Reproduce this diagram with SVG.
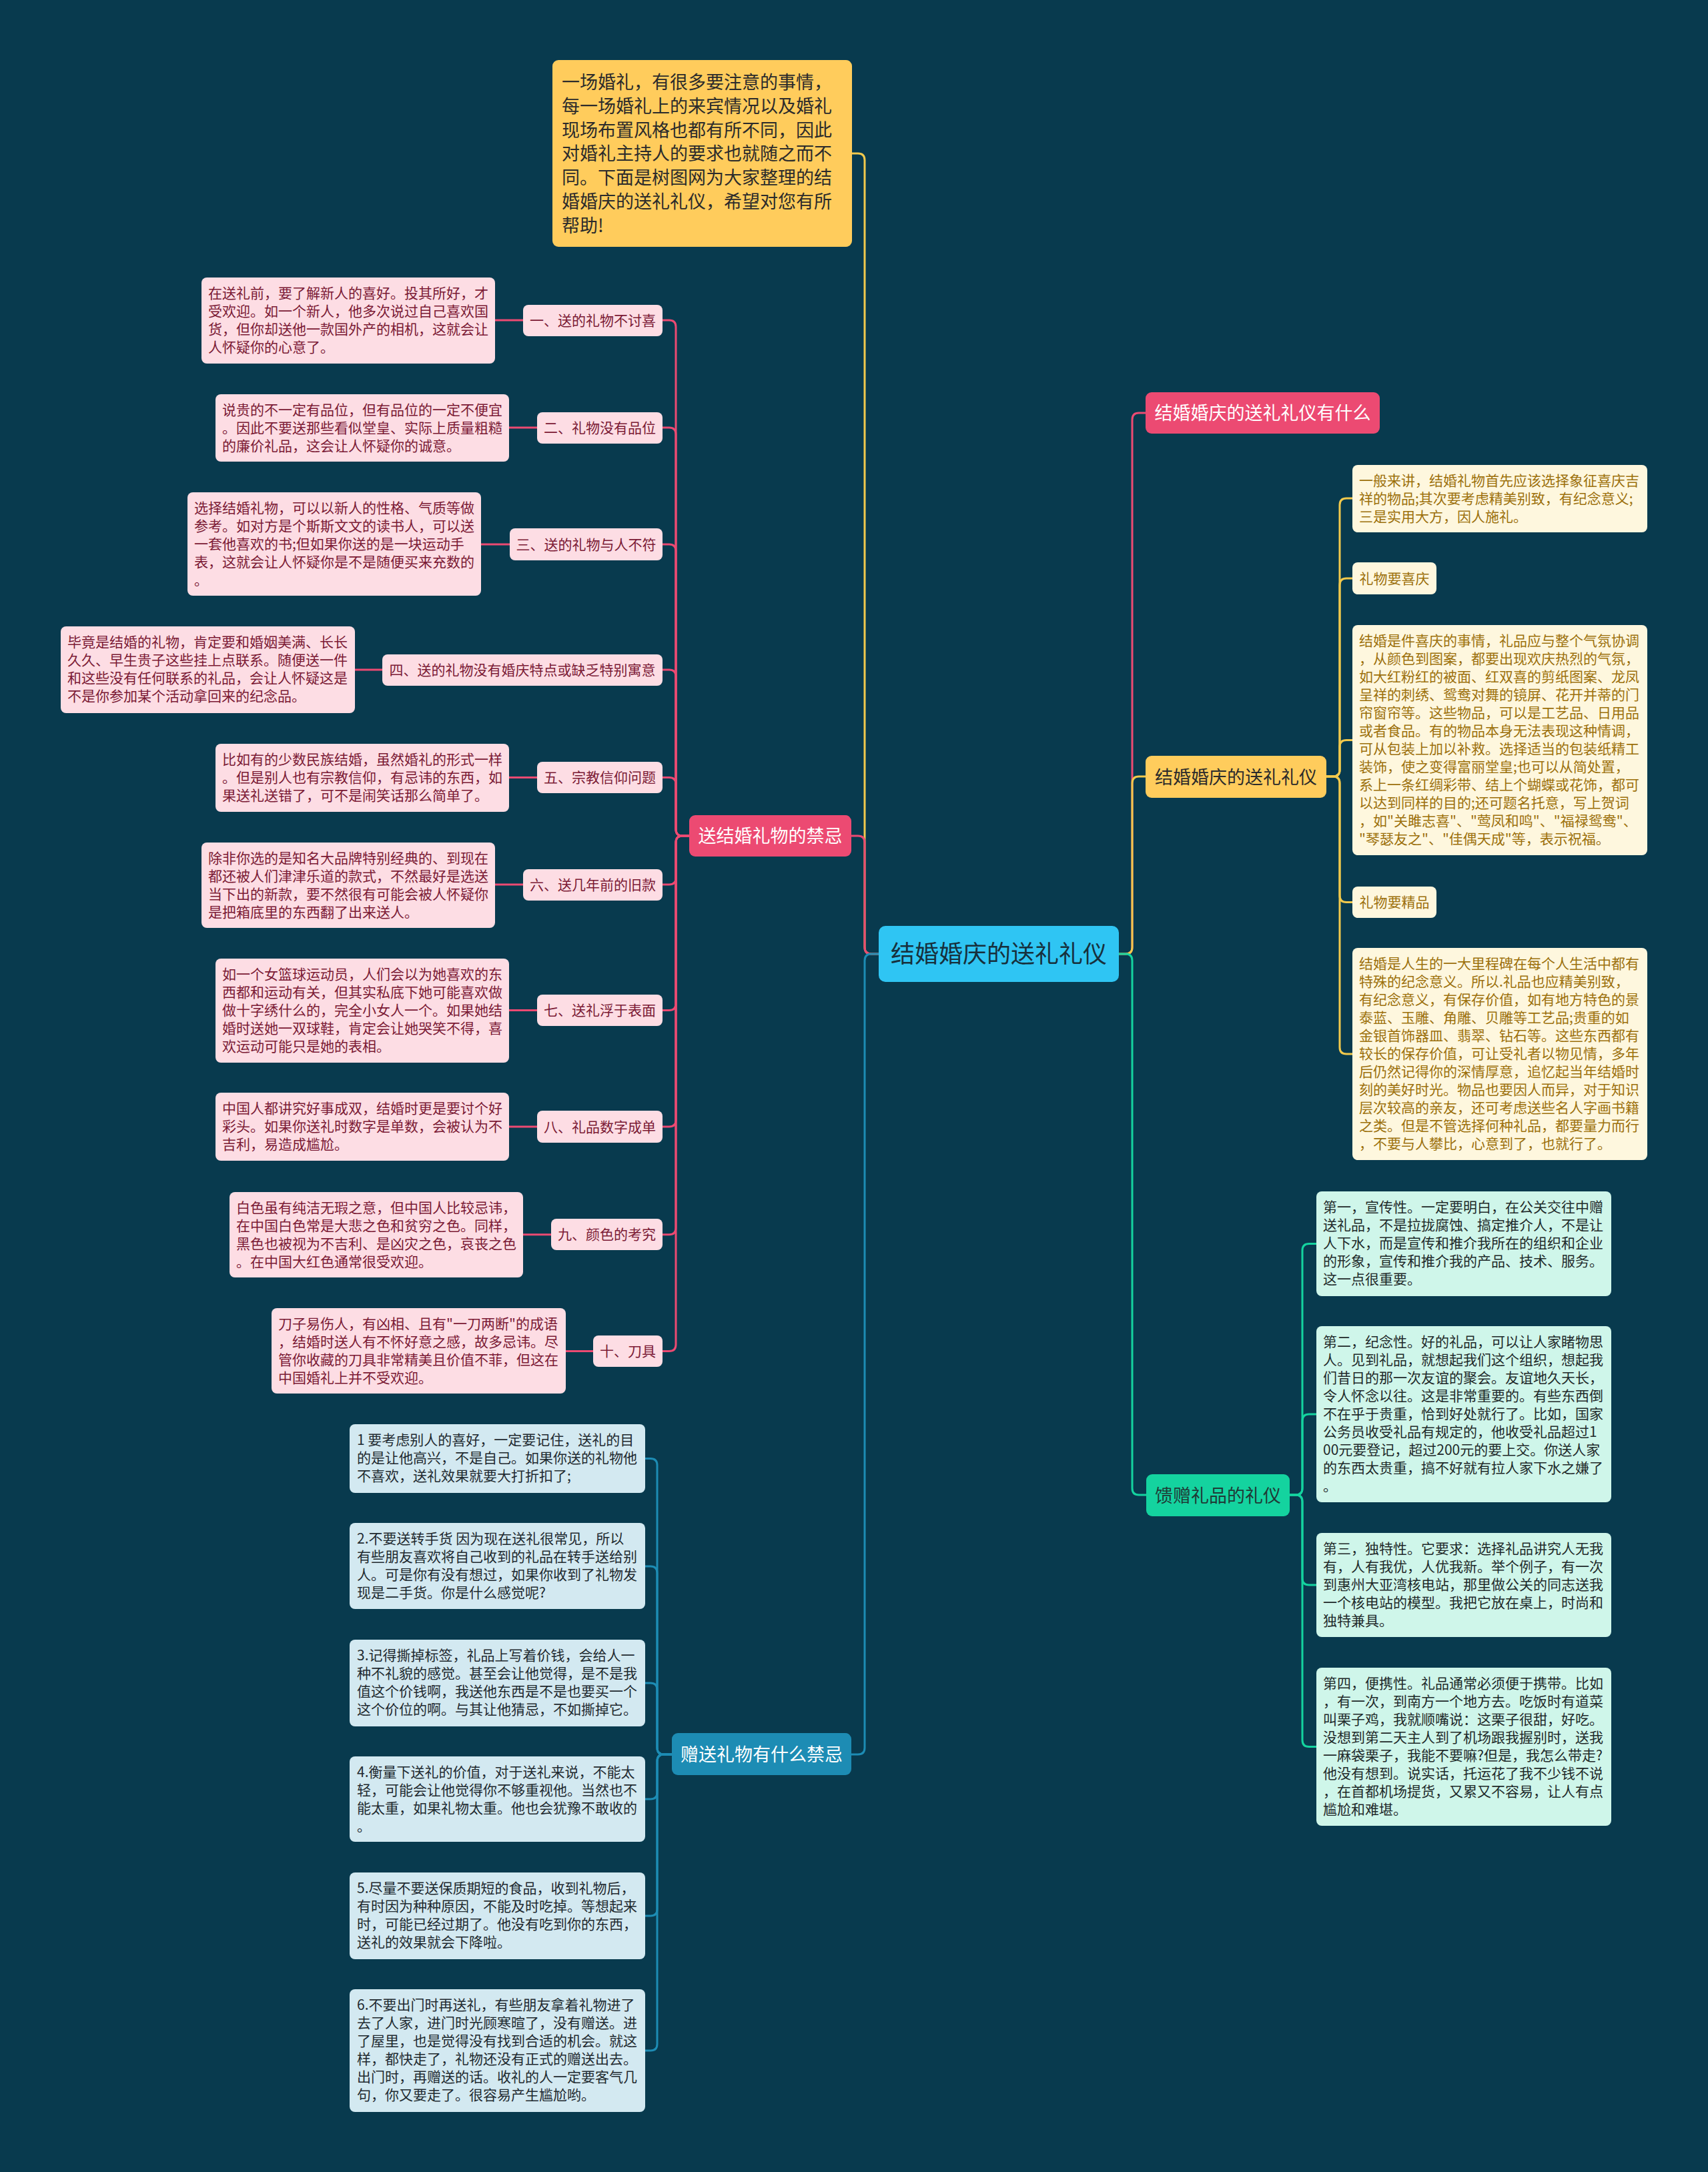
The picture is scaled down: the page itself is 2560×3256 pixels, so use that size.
<svg xmlns="http://www.w3.org/2000/svg" width="2560" height="3256" viewBox="0 0 2560 3256">
<style>
text{font-family:"Noto Sans CJK SC","Noto Sans",sans-serif;}
.c{fill:none;stroke-width:3;stroke-linecap:round;}
.cp{stroke:#EC4A72;}
.cy{stroke:#F2C94C;}
.cb{stroke:#1D8CB4;}
.cg{stroke:#14D39F;}
.pl{fill:#FDDDE4;}
.pt{fill:#7B1A35;font-size:21px;}
.bl{fill:#D3E9F1;}
.bt{fill:#1F2A30;font-size:21px;}
.yl{fill:#FEF7DE;}
.yt{fill:#9C700C;font-size:21px;}
.gl{fill:#CFF6EA;}
.gt{fill:#1F2A2A;font-size:21px;}
.m{text-anchor:middle;}
.l1{font-size:27px;}
</style>
<rect width="2560" height="3256" fill="#083A4E"/>

<g id="connectors">
<path class="c cy" d="M1317,1430H1306Q1296,1430 1296,1420V240Q1296,230 1286,230H1277"/>
<path class="c cp" d="M1317,1430H1306Q1296,1430 1296,1420V1263Q1296,1253 1286,1253H1276"/>
<path class="c cb" d="M1317,1430H1306Q1296,1430 1296,1440V2620Q1296,2630 1286,2630H1276"/>
<path class="c cp" d="M1677,1430H1687Q1697,1430 1697,1420V629Q1697,619 1707,619H1717"/>
<path class="c cy" d="M1677,1430H1687Q1697,1430 1697,1420V1174Q1697,1164 1707,1164H1717"/>
<path class="c cg" d="M1677,1430H1687Q1697,1430 1697,1440V2231Q1697,2241 1707,2241H1718"/>

<path class="c cp" d="M1033,1253H1023Q1013,1253 1013,1243V490Q1013,480 1003,480H993"/>
<path class="c cp" d="M1033,1253H1023Q1013,1253 1013,1243V651Q1013,641 1003,641H993"/>
<path class="c cp" d="M1033,1253H1023Q1013,1253 1013,1243V826Q1013,816 1003,816H993"/>
<path class="c cp" d="M1033,1253H1023Q1013,1253 1013,1243V1014Q1013,1004 1003,1004H993"/>
<path class="c cp" d="M1033,1253H1023Q1013,1253 1013,1243V1175.5Q1013,1165.5 1003,1165.5H993"/>
<path class="c cp" d="M1033,1253H1023Q1013,1253 1013,1263V1316Q1013,1326 1003,1326H993"/>
<path class="c cp" d="M1033,1253H1023Q1013,1253 1013,1263V1504.5Q1013,1514.5 1003,1514.5H993"/>
<path class="c cp" d="M1033,1253H1023Q1013,1253 1013,1263V1679Q1013,1689 1003,1689H993"/>
<path class="c cp" d="M1033,1253H1023Q1013,1253 1013,1263V1840.7Q1013,1850.7 1003,1850.7H993"/>
<path class="c cp" d="M1033,1253H1023Q1013,1253 1013,1263V2015.5Q1013,2025.5 1003,2025.5H993"/>

<path class="c cp" d="M784,480H742"/>
<path class="c cp" d="M805,641H763"/>
<path class="c cp" d="M764,816H721"/>
<path class="c cp" d="M573,1004H532"/>
<path class="c cp" d="M805,1165.5H763"/>
<path class="c cp" d="M784,1326H742"/>
<path class="c cp" d="M805,1514.5H763"/>
<path class="c cp" d="M805,1689H763"/>
<path class="c cp" d="M826,1850.7H784"/>
<path class="c cp" d="M889,2025.5H848"/>

<path class="c cy" d="M1988,1164H1998Q2008,1164 2008,1154V757Q2008,747 2018,747H2027"/>
<path class="c cy" d="M1988,1164H1998Q2008,1164 2008,1154V877Q2008,867 2018,867H2027"/>
<path class="c cy" d="M1988,1164H1998Q2008,1164 2008,1154V1119.5Q2008,1109.5 2018,1109.5H2027"/>
<path class="c cy" d="M1988,1164H1998Q2008,1164 2008,1174V1342.5Q2008,1352.5 2018,1352.5H2027"/>
<path class="c cy" d="M1988,1164H1998Q2008,1164 2008,1174V1570Q2008,1580 2018,1580H2027"/>

<path class="c cg" d="M1933,2241H1942Q1952,2241 1952,2231V1874.5Q1952,1864.5 1962,1864.5H1973"/>
<path class="c cg" d="M1933,2241H1942Q1952,2241 1952,2231V2130Q1952,2120 1962,2120H1973"/>
<path class="c cg" d="M1933,2241H1942Q1952,2241 1952,2251V2366Q1952,2376 1962,2376H1973"/>
<path class="c cg" d="M1933,2241H1942Q1952,2241 1952,2251V2608.5Q1952,2618.5 1962,2618.5H1973"/>

<path class="c cb" d="M1007,2630H995Q985,2630 985,2620V2196.5Q985,2186.5 975,2186.5H967"/>
<path class="c cb" d="M1007,2630H995Q985,2630 985,2620V2358Q985,2348 975,2348H967"/>
<path class="c cb" d="M1007,2630H995Q985,2630 985,2620V2533Q985,2523 975,2523H967"/>
<path class="c cb" d="M1007,2630H995Q985,2630 985,2640V2687Q985,2697 975,2697H967"/>
<path class="c cb" d="M1007,2630H995Q985,2630 985,2640V2862Q985,2872 975,2872H967"/>
<path class="c cb" d="M1007,2630H995Q985,2630 985,2640V3064Q985,3074 975,3074H967"/>
</g>

<g id="root">
<rect x="1317" y="1388" width="360" height="84" rx="10" fill="#2FC5F3"/>
<text x="1497" y="1443" class="m" font-size="36" fill="#17303C">结婚婚庆的送礼礼仪</text>
</g>

<g id="intro">
<rect x="828" y="90" width="449" height="280" rx="9" fill="#FFCC5C"/>
<text x="842" y="133" font-size="27" fill="#2B2B2B"><tspan x="842">一场婚礼，有很多要注意的事情，</tspan><tspan x="842" dy="35.8">每一场婚礼上的来宾情况以及婚礼</tspan><tspan x="842" dy="35.8">现场布置风格也都有所不同，因此</tspan><tspan x="842" dy="35.8">对婚礼主持人的要求也就随之而不</tspan><tspan x="842" dy="35.8">同。下面是树图网为大家整理的结</tspan><tspan x="842" dy="35.8">婚婚庆的送礼礼仪，希望对您有所</tspan><tspan x="842" dy="35.8">帮助!</tspan></text>
</g>

<g id="b-taboo">
<rect x="1033" y="1222" width="243" height="62" rx="9" fill="#EC4A72"/>
<text x="1154.5" y="1263" class="m l1" fill="#FFFFFF">送结婚礼物的禁忌</text>
</g>

<g id="t1"><rect class="pl" x="784" y="457" width="209" height="47" rx="8"/><text class="pt m" x="888.5" y="488">一、送的礼物不讨喜</text></g>
<g id="t1d"><rect class="pl" x="302" y="416" width="440" height="129" rx="8"/><text class="pt" x="312" y="447"><tspan x="312">在送礼前，要了解新人的喜好。投其所好，才</tspan><tspan x="312" dy="27">受欢迎。如一个新人，他多次说过自己喜欢国</tspan><tspan x="312" dy="27">货，但你却送他一款国外产的相机，这就会让</tspan><tspan x="312" dy="27">人怀疑你的心意了。</tspan></text></g>

<g id="t2"><rect class="pl" x="805" y="618" width="188" height="47" rx="8"/><text class="pt m" x="899" y="649">二、礼物没有品位</text></g>
<g id="t2d"><rect class="pl" x="323" y="591" width="440" height="101" rx="8"/><text class="pt" x="333" y="622"><tspan x="333">说贵的不一定有品位，但有品位的一定不便宜</tspan><tspan x="333" dy="27">。因此不要送那些看似堂皇、实际上质量粗糙</tspan><tspan x="333" dy="27">的廉价礼品，这会让人怀疑你的诚意。</tspan></text></g>

<g id="t3"><rect class="pl" x="764" y="792" width="229" height="48" rx="8"/><text class="pt m" x="878.5" y="823.5">三、送的礼物与人不符</text></g>
<g id="t3d"><rect class="pl" x="281" y="738" width="440" height="155" rx="8"/><text class="pt" x="291" y="769"><tspan x="291">选择结婚礼物，可以以新人的性格、气质等做</tspan><tspan x="291" dy="27">参考。如对方是个斯斯文文的读书人，可以送</tspan><tspan x="291" dy="27">一套他喜欢的书;但如果你送的是一块运动手</tspan><tspan x="291" dy="27">表，这就会让人怀疑你是不是随便买来充数的</tspan><tspan x="291" dy="27">。</tspan></text></g>

<g id="t4"><rect class="pl" x="573" y="981" width="420" height="47" rx="8"/><text class="pt m" x="783" y="1011.5">四、送的礼物没有婚庆特点或缺乏特别寓意</text></g>
<g id="t4d"><rect class="pl" x="91" y="939" width="441" height="130" rx="8"/><text class="pt" x="101" y="970"><tspan x="101">毕竟是结婚的礼物，肯定要和婚姻美满、长长</tspan><tspan x="101" dy="27">久久、早生贵子这些挂上点联系。随便送一件</tspan><tspan x="101" dy="27">和这些没有任何联系的礼品，会让人怀疑这是</tspan><tspan x="101" dy="27">不是你参加某个活动拿回来的纪念品。</tspan></text></g>

<g id="t5"><rect class="pl" x="805" y="1142" width="188" height="47" rx="8"/><text class="pt m" x="899" y="1173">五、宗教信仰问题</text></g>
<g id="t5d"><rect class="pl" x="323" y="1115" width="440" height="102" rx="8"/><text class="pt" x="333" y="1146"><tspan x="333">比如有的少数民族结婚，虽然婚礼的形式一样</tspan><tspan x="333" dy="27">。但是别人也有宗教信仰，有忌讳的东西，如</tspan><tspan x="333" dy="27">果送礼送错了，可不是闹笑话那么简单了。</tspan></text></g>

<g id="t6"><rect class="pl" x="784" y="1303" width="209" height="47" rx="8"/><text class="pt m" x="888.5" y="1333.5">六、送几年前的旧款</text></g>
<g id="t6d"><rect class="pl" x="302" y="1263" width="440" height="128" rx="8"/><text class="pt" x="312" y="1294"><tspan x="312">除非你选的是知名大品牌特别经典的、到现在</tspan><tspan x="312" dy="27">都还被人们津津乐道的款式，不然最好是选送</tspan><tspan x="312" dy="27">当下出的新款，要不然很有可能会被人怀疑你</tspan><tspan x="312" dy="27">是把箱底里的东西翻了出来送人。</tspan></text></g>

<g id="t7"><rect class="pl" x="805" y="1491" width="188" height="47" rx="8"/><text class="pt m" x="899" y="1522">七、送礼浮于表面</text></g>
<g id="t7d"><rect class="pl" x="323" y="1437" width="440" height="156" rx="8"/><text class="pt" x="333" y="1468"><tspan x="333">如一个女篮球运动员，人们会以为她喜欢的东</tspan><tspan x="333" dy="27">西都和运动有关，但其实私底下她可能喜欢做</tspan><tspan x="333" dy="27">做十字绣什么的，完全小女人一个。如果她结</tspan><tspan x="333" dy="27">婚时送她一双球鞋，肯定会让她哭笑不得，喜</tspan><tspan x="333" dy="27">欢运动可能只是她的表相。</tspan></text></g>

<g id="t8"><rect class="pl" x="805" y="1665" width="188" height="48" rx="8"/><text class="pt m" x="899" y="1696.5">八、礼品数字成单</text></g>
<g id="t8d"><rect class="pl" x="323" y="1638" width="440" height="102" rx="8"/><text class="pt" x="333" y="1669"><tspan x="333">中国人都讲究好事成双，结婚时更是要讨个好</tspan><tspan x="333" dy="27">彩头。如果你送礼时数字是单数，会被认为不</tspan><tspan x="333" dy="27">吉利，易造成尴尬。</tspan></text></g>

<g id="t9"><rect class="pl" x="826" y="1827" width="167" height="47" rx="8"/><text class="pt m" x="909.5" y="1858">九、颜色的考究</text></g>
<g id="t9d"><rect class="pl" x="344" y="1787" width="440" height="128" rx="8"/><text class="pt" x="354" y="1818"><tspan x="354">白色虽有纯洁无瑕之意，但中国人比较忌讳，</tspan><tspan x="354" dy="27">在中国白色常是大悲之色和贫穷之色。同样，</tspan><tspan x="354" dy="27">黑色也被视为不吉利、是凶灾之色，哀丧之色</tspan><tspan x="354" dy="27">。在中国大红色通常很受欢迎。</tspan></text></g>

<g id="t10"><rect class="pl" x="889" y="2002" width="104" height="47" rx="8"/><text class="pt m" x="941" y="2033">十、刀具</text></g>
<g id="t10d"><rect class="pl" x="407" y="1961" width="441" height="128" rx="8"/><text class="pt" x="417" y="1992"><tspan x="417">刀子易伤人，有凶相、且有"一刀两断"的成语</tspan><tspan x="417" dy="27">，结婚时送人有不怀好意之感，故多忌讳。尽</tspan><tspan x="417" dy="27">管你收藏的刀具非常精美且价值不菲，但这在</tspan><tspan x="417" dy="27">中国婚礼上并不受欢迎。</tspan></text></g>

<g id="b-gift">
<rect x="1007" y="2598" width="269" height="63" rx="9" fill="#1D8CB4"/>
<text x="1141.5" y="2640" class="m l1" fill="#FFFFFF">赠送礼物有什么禁忌</text>
</g>

<g id="g1"><rect class="bl" x="524" y="2135" width="443" height="103" rx="8"/><text class="bt" x="535" y="2166"><tspan x="535">1 要考虑别人的喜好，一定要记住，送礼的目</tspan><tspan x="535" dy="27">的是让他高兴，不是自己。如果你送的礼物他</tspan><tspan x="535" dy="27">不喜欢，送礼效果就要大打折扣了;</tspan></text></g>
<g id="g2"><rect class="bl" x="524" y="2283" width="443" height="129" rx="8"/><text class="bt" x="535" y="2314"><tspan x="535">2.不要送转手货 因为现在送礼很常见，所以</tspan><tspan x="535" dy="27">有些朋友喜欢将自己收到的礼品在转手送给别</tspan><tspan x="535" dy="27">人。可是你有没有想过，如果你收到了礼物发</tspan><tspan x="535" dy="27">现是二手货。你是什么感觉呢?</tspan></text></g>
<g id="g3"><rect class="bl" x="524" y="2458" width="443" height="130" rx="8"/><text class="bt" x="535" y="2489"><tspan x="535">3.记得撕掉标签，礼品上写着价钱，会给人一</tspan><tspan x="535" dy="27">种不礼貌的感觉。甚至会让他觉得，是不是我</tspan><tspan x="535" dy="27">值这个价钱啊，我送他东西是不是也要买一个</tspan><tspan x="535" dy="27">这个价位的啊。与其让他猜忌，不如撕掉它。</tspan></text></g>
<g id="g4"><rect class="bl" x="524" y="2633" width="443" height="128" rx="8"/><text class="bt" x="535" y="2664"><tspan x="535">4.衡量下送礼的价值，对于送礼来说，不能太</tspan><tspan x="535" dy="27">轻，可能会让他觉得你不够重视他。当然也不</tspan><tspan x="535" dy="27">能太重，如果礼物太重。他也会犹豫不敢收的</tspan><tspan x="535" dy="27">。</tspan></text></g>
<g id="g5"><rect class="bl" x="524" y="2807" width="443" height="130" rx="8"/><text class="bt" x="535" y="2838"><tspan x="535">5.尽量不要送保质期短的食品，收到礼物后，</tspan><tspan x="535" dy="27">有时因为种种原因，不能及时吃掉。等想起来</tspan><tspan x="535" dy="27">时，可能已经过期了。他没有吃到你的东西，</tspan><tspan x="535" dy="27">送礼的效果就会下降啦。</tspan></text></g>
<g id="g6"><rect class="bl" x="524" y="2982" width="443" height="184" rx="8"/><text class="bt" x="535" y="3013"><tspan x="535">6.不要出门时再送礼，有些朋友拿着礼物进了</tspan><tspan x="535" dy="27">去了人家，进门时光顾寒暄了，没有赠送。进</tspan><tspan x="535" dy="27">了屋里，也是觉得没有找到合适的机会。就这</tspan><tspan x="535" dy="27">样，都快走了，礼物还没有正式的赠送出去。</tspan><tspan x="535" dy="27">出门时，再赠送的话。收礼的人一定要客气几</tspan><tspan x="535" dy="27">句，你又要走了。很容易产生尴尬哟。</tspan></text></g>

<g id="b-what">
<rect x="1717" y="588" width="351" height="62" rx="9" fill="#EC4A72"/>
<text x="1892.5" y="629" class="m l1" fill="#FFFFFF">结婚婚庆的送礼礼仪有什么</text>
</g>

<g id="b-etiquette">
<rect x="1717" y="1133" width="271" height="63" rx="9" fill="#FFCC5C"/>
<text x="1852.5" y="1174.5" class="m l1" fill="#2B2B2B">结婚婚庆的送礼礼仪</text>
</g>

<g id="e1"><rect class="yl" x="2027" y="697" width="442" height="101" rx="8"/><text class="yt" x="2037" y="728"><tspan x="2037">一般来讲，结婚礼物首先应该选择象征喜庆吉</tspan><tspan x="2037" dy="27">祥的物品;其次要考虑精美别致，有纪念意义;</tspan><tspan x="2037" dy="27">三是实用大方，因人施礼。</tspan></text></g>
<g id="e2"><rect class="yl" x="2027" y="843" width="126" height="48" rx="8"/><text class="yt m" x="2090" y="874.5">礼物要喜庆</text></g>
<g id="e3"><rect class="yl" x="2027" y="937" width="442" height="345" rx="8"/><text class="yt" x="2037" y="968"><tspan x="2037">结婚是件喜庆的事情，礼品应与整个气氛协调</tspan><tspan x="2037" dy="27">，从颜色到图案，都要出现欢庆热烈的气氛，</tspan><tspan x="2037" dy="27">如大红粉红的被面、红双喜的剪纸图案、龙凤</tspan><tspan x="2037" dy="27">呈祥的刺绣、鸳鸯对舞的镜屏、花开并蒂的门</tspan><tspan x="2037" dy="27">帘窗帘等。这些物品，可以是工艺品、日用品</tspan><tspan x="2037" dy="27">或者食品。有的物品本身无法表现这种情调，</tspan><tspan x="2037" dy="27">可从包装上加以补救。选择适当的包装纸精工</tspan><tspan x="2037" dy="27">装饰，使之变得富丽堂皇;也可以从简处置，</tspan><tspan x="2037" dy="27">系上一条红绸彩带、结上个蝴蝶或花饰，都可</tspan><tspan x="2037" dy="27">以达到同样的目的;还可题名托意，写上贺词</tspan><tspan x="2037" dy="27">，如"关雎志喜"、"莺凤和鸣"、"福禄鸳鸯"、</tspan><tspan x="2037" dy="27">"琴瑟友之"、"佳偶天成"等，表示祝福。</tspan></text></g>
<g id="e4"><rect class="yl" x="2027" y="1329" width="126" height="47" rx="8"/><text class="yt m" x="2090" y="1360">礼物要精品</text></g>
<g id="e5"><rect class="yl" x="2027" y="1421" width="442" height="318" rx="8"/><text class="yt" x="2037" y="1452"><tspan x="2037">结婚是人生的一大里程碑在每个人生活中都有</tspan><tspan x="2037" dy="27">特殊的纪念意义。所以.礼品也应精美别致，</tspan><tspan x="2037" dy="27">有纪念意义，有保存价值，如有地方特色的景</tspan><tspan x="2037" dy="27">泰蓝、玉雕、角雕、贝雕等工艺品;贵重的如</tspan><tspan x="2037" dy="27">金银首饰器皿、翡翠、钻石等。这些东西都有</tspan><tspan x="2037" dy="27">较长的保存价值，可让受礼者以物见情，多年</tspan><tspan x="2037" dy="27">后仍然记得你的深情厚意，追忆起当年结婚时</tspan><tspan x="2037" dy="27">刻的美好时光。物品也要因人而异，对于知识</tspan><tspan x="2037" dy="27">层次较高的亲友，还可考虑送些名人字画书籍</tspan><tspan x="2037" dy="27">之类。但是不管选择何种礼品，都要量力而行</tspan><tspan x="2037" dy="27">，不要与人攀比，心意到了，也就行了。</tspan></text></g>

<g id="b-present">
<rect x="1718" y="2210" width="215" height="63" rx="9" fill="#14D39F"/>
<text x="1825.5" y="2251.5" class="m l1" fill="#1F3A36">馈赠礼品的礼仪</text>
</g>

<g id="p1"><rect class="gl" x="1973" y="1786" width="442" height="157" rx="8"/><text class="gt" x="1983" y="1817"><tspan x="1983">第一，宣传性。一定要明白，在公关交往中赠</tspan><tspan x="1983" dy="27">送礼品，不是拉拢腐蚀、搞定推介人，不是让</tspan><tspan x="1983" dy="27">人下水，而是宣传和推介我所在的组织和企业</tspan><tspan x="1983" dy="27">的形象，宣传和推介我的产品、技术、服务。</tspan><tspan x="1983" dy="27">这一点很重要。</tspan></text></g>
<g id="p2"><rect class="gl" x="1973" y="1988" width="442" height="264" rx="8"/><text class="gt" x="1983" y="2019"><tspan x="1983">第二，纪念性。好的礼品，可以让人家睹物思</tspan><tspan x="1983" dy="27">人。见到礼品，就想起我们这个组织，想起我</tspan><tspan x="1983" dy="27">们昔日的那一次友谊的聚会。友谊地久天长，</tspan><tspan x="1983" dy="27">令人怀念以往。这是非常重要的。有些东西倒</tspan><tspan x="1983" dy="27">不在乎于贵重，恰到好处就行了。比如，国家</tspan><tspan x="1983" dy="27">公务员收受礼品有规定的，他收受礼品超过1</tspan><tspan x="1983" dy="27">00元要登记，超过200元的要上交。你送人家</tspan><tspan x="1983" dy="27">的东西太贵重，搞不好就有拉人家下水之嫌了</tspan><tspan x="1983" dy="27">。</tspan></text></g>
<g id="p3"><rect class="gl" x="1973" y="2298" width="442" height="156" rx="8"/><text class="gt" x="1983" y="2329"><tspan x="1983">第三，独特性。它要求：选择礼品讲究人无我</tspan><tspan x="1983" dy="27">有，人有我优，人优我新。举个例子，有一次</tspan><tspan x="1983" dy="27">到惠州大亚湾核电站，那里做公关的同志送我</tspan><tspan x="1983" dy="27">一个核电站的模型。我把它放在桌上，时尚和</tspan><tspan x="1983" dy="27">独特兼具。</tspan></text></g>
<g id="p4"><rect class="gl" x="1973" y="2500" width="442" height="237" rx="8"/><text class="gt" x="1983" y="2531"><tspan x="1983">第四，便携性。礼品通常必须便于携带。比如</tspan><tspan x="1983" dy="27">，有一次，到南方一个地方去。吃饭时有道菜</tspan><tspan x="1983" dy="27">叫栗子鸡，我就顺嘴说：这栗子很甜，好吃。</tspan><tspan x="1983" dy="27">没想到第二天主人到了机场跟我握别时，送我</tspan><tspan x="1983" dy="27">一麻袋栗子，我能不要嘛?但是，我怎么带走?</tspan><tspan x="1983" dy="27">他没有想到。说实话，托运花了我不少钱不说</tspan><tspan x="1983" dy="27">，在首都机场提货，又累又不容易，让人有点</tspan><tspan x="1983" dy="27">尴尬和难堪。</tspan></text></g>
</svg>
